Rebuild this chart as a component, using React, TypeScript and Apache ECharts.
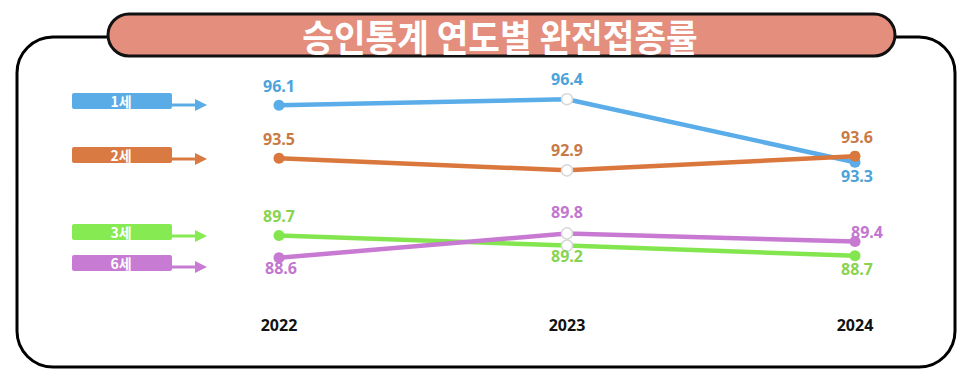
import React, { useEffect, useRef } from "react";
import * as echarts from "echarts";

const years = ["2022", "2023", "2024"];
const ageGroups = ["1세", "2세", "3세", "6세"];
const rate1 = [96.1, 96.4, 93.3];
const rate2 = [93.5, 92.9, 93.6];
const rate3 = [89.7, 89.2, 88.7];
const rate6 = [88.6, 89.8, 89.4];
const title = "승인통계 연도별 완전접종률";

const lineColors = ["#5aade9", "#d9773d", "#84e64f", "#c87ad3"];
const labelColors = ["#4aa3da", "#c97a44", "#8ad350", "#c176cf"];
const boxColors = ["#5aace6", "#d87a42", "#86ea52", "#c77bd3"];
// label center offsets relative to each point [dx, dy]
const labelOffsets = [
  [[0, -19], [0, -20], [2, 14]],
  [[0, -19], [0, -20], [2, -19]],
  [[0, -19], [0, 10], [2, 13]],
  [[2, 10], [0, -21], [12, -10]],
];
// legend box vertical positions (top y)
const boxTops = [93, 147, 224, 255];

export default function App() {
  const ref = useRef<HTMLDivElement>(null);
  useEffect(() => {
    if (!ref.current) return;
    const chart = echarts.init(ref.current, undefined, { renderer: "svg" });
    const allRates = [rate1, rate2, rate3, rate6];
    const series = allRates.map((vals, si) => ({
      name: ageGroups[si],
      type: "line",
      data: vals.map((v, i) => ({
        value: v,
        itemStyle:
          i === 1
            ? { color: "#ffffff", borderColor: "#d8d8d8", borderWidth: 1.5 }
            : { color: lineColors[si], borderColor: lineColors[si], borderWidth: 0 },
        label: {
          show: true,
          position: "inside",
          offset: labelOffsets[si][i],
          color: labelColors[si],
          fontFamily: "Open Sans",
          fontWeight: "bold",
          fontSize: 16,
          formatter: (p: any) => Number(p.value).toFixed(1),
        },
      })),
      symbol: "circle",
      symbolSize: 11,
      showAllSymbol: true,
      lineStyle: { color: lineColors[si], width: 4.5 },
      itemStyle: { color: lineColors[si] },
      z: 2 + si,
    }));

    const legendEls: any[] = [];
    ageGroups.forEach((g, i) => {
      const top = boxTops[i];
      const mid = top + 12;
      legendEls.push(
        {
          type: "rect",
          shape: { x: 72, y: top, width: 100, height: 16, r: 2 },
          style: { fill: boxColors[i] },
        },
        {
          type: "text",
          x: 121,
          y: top + 8,
          style: {
            text: g,
            fill: "#ffffff",
            font: "bold 14px 'Noto Sans CJK KR'",
            textAlign: "center",
            textVerticalAlign: "middle",
          },
        },
        {
          type: "line",
          shape: { x1: 171, y1: mid, x2: 197, y2: mid },
          style: { stroke: boxColors[i], lineWidth: 3 },
        },
        {
          type: "polygon",
          shape: { points: [[195, mid - 6], [207, mid], [195, mid + 6]] },
          style: { fill: boxColors[i] },
        }
      );
    });

    chart.setOption({
      animation: false,
      backgroundColor: "#ffffff",
      grid: { left: 279, right: 115, top: 87, bottom: 112 },
      xAxis: {
        type: "category",
        data: years,
        boundaryGap: false,
        axisLine: { show: false },
        axisTick: { show: false },
        splitLine: { show: false },
        axisLabel: {
          margin: 47,
          color: "#111111",
          fontFamily: "Noto Sans",
          fontWeight: "bold",
          fontSize: 16,
        },
      },
      yAxis: {
        type: "value",
        min: 88,
        max: 97,
        show: false,
        splitLine: { show: false },
      },
      series,
      graphic: [
        {
          type: "rect",
          z: -10,
          shape: { x: 17, y: 37, width: 938, height: 330, r: 36 },
          style: { fill: "none", stroke: "#000000", lineWidth: 3 },
        },
        {
          type: "rect",
          z: 10,
          shape: { x: 108, y: 14, width: 787, height: 42, r: 21 },
          style: { fill: "#e48e7e", stroke: "#111111", lineWidth: 3 },
        },
        {
          type: "text",
          z: 11,
          x: 500,
          y: 36,
          scaleX: 0.93,
          style: {
            text: title,
            fill: "#ffffff",
            font: "bold 37px 'Noto Sans CJK KR'",
            textAlign: "center",
            textVerticalAlign: "middle",
          },
        },
        ...legendEls,
      ],
    });
    return () => chart.dispose();
  }, []);
  return (
    <div
      ref={ref}
      style={{ position: "fixed", left: 0, top: 0, width: 970, height: 382 }}
    />
  );
}
